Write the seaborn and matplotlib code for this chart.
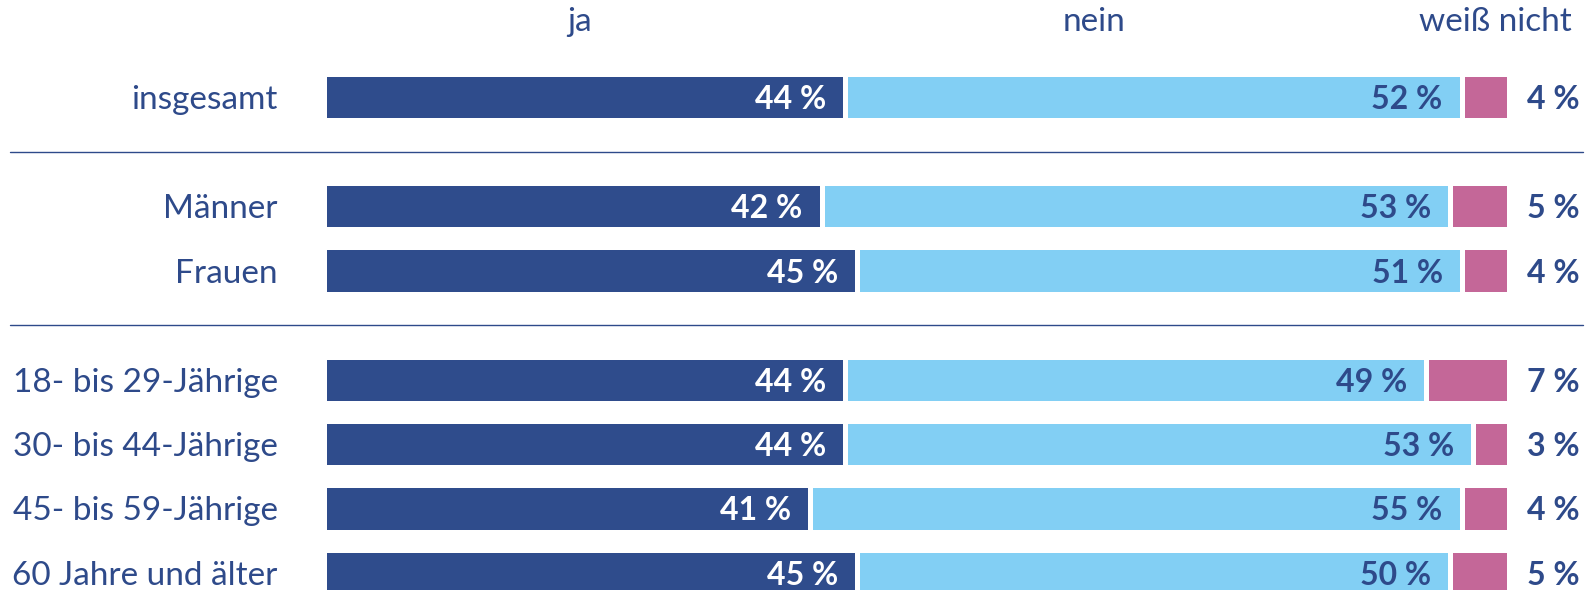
import pandas as pd
import matplotlib
matplotlib.use("Agg")
import matplotlib.pyplot as plt
import seaborn as sns

# Data
groups = ["insgesamt", "Männer", "Frauen", "18- bis 29-Jährige",
          "30- bis 44-Jährige", "45- bis 59-Jährige", "60 Jahre und älter"]
block = [0, 1, 1, 2, 2, 2, 2]          # insgesamt / Geschlecht / Alter
ja = [44, 42, 45, 44, 44, 41, 45]
nein = [52, 53, 51, 49, 53, 55, 50]
weiss = [4, 5, 4, 7, 3, 4, 5]
answers = ["ja", "nein", "weiß nicht"]

dark = "#2F4C8C"
light = "#82CFF4"
pink = "#C46798"
textblue = "#2E4A8A"

df = pd.DataFrame({"gruppe": groups, "block": block, "ja": ja, "nein": nein, "weiss": weiss})
df["pos"] = df.index + df["block"] * 0.7
df["ja_nein"] = df["ja"] + df["nein"]
df["total"] = df["ja_nein"] + df["weiss"]

sns.set_theme(style="white")
plt.rcParams["font.family"] = ["Lato", "DejaVu Sans"]

fig = plt.figure(figsize=(15.96, 5.90), dpi=100)
ax = fig.add_axes([324 / 1596, 0, 1185 / 1596, 1])

# stacked bars: draw cumulative totals, largest first
for col, color in [("total", pink), ("ja_nein", light), ("ja", dark)]:
    sns.barplot(data=df, x=col, y="pos", orient="h", native_scale=True,
                color=color, saturation=1, width=0.72, errorbar=None,
                edgecolor="white", linewidth=3.6, ax=ax)

ax.set_xlim(0, 100)
ax.set_ylim(7.67, -1.51)
ax.axis("off")

for row in df.itertuples():
    ax.text(-3.9, row.pos, row.gruppe, ha="right", va="center_baseline",
            color=textblue, fontsize=24)
    ax.text(row.ja - 1.6, row.pos, f"{row.ja} %", ha="right", va="center_baseline",
            color="white", fontsize=23, fontweight="bold")
    ax.text(row.ja_nein - 1.6, row.pos, f"{row.nein} %", ha="right", va="center_baseline",
            color=textblue, fontsize=23, fontweight="bold")
    ax.text(106.0, row.pos, f"{row.weiss} %", ha="right", va="center_baseline",
            color=textblue, fontsize=23, fontweight="bold")

# separators between the groups
for b in sorted(df["block"].unique())[1:]:
    y_sep = (df.loc[df["block"] == b - 1, "pos"].max() + df.loc[df["block"] == b, "pos"].min()) / 2
    ax.axhline(y_sep, xmin=-0.265, xmax=1.0625, color=textblue, lw=1, clip_on=False)

# column headers
for label, xpix in zip(answers, [580, 1094, 1495]):
    fig.text(xpix / 1596, 1 - 22 / 590, label, ha="center", va="center",
             color=textblue, fontsize=24)

fig.savefig("out.png", dpi=100)
